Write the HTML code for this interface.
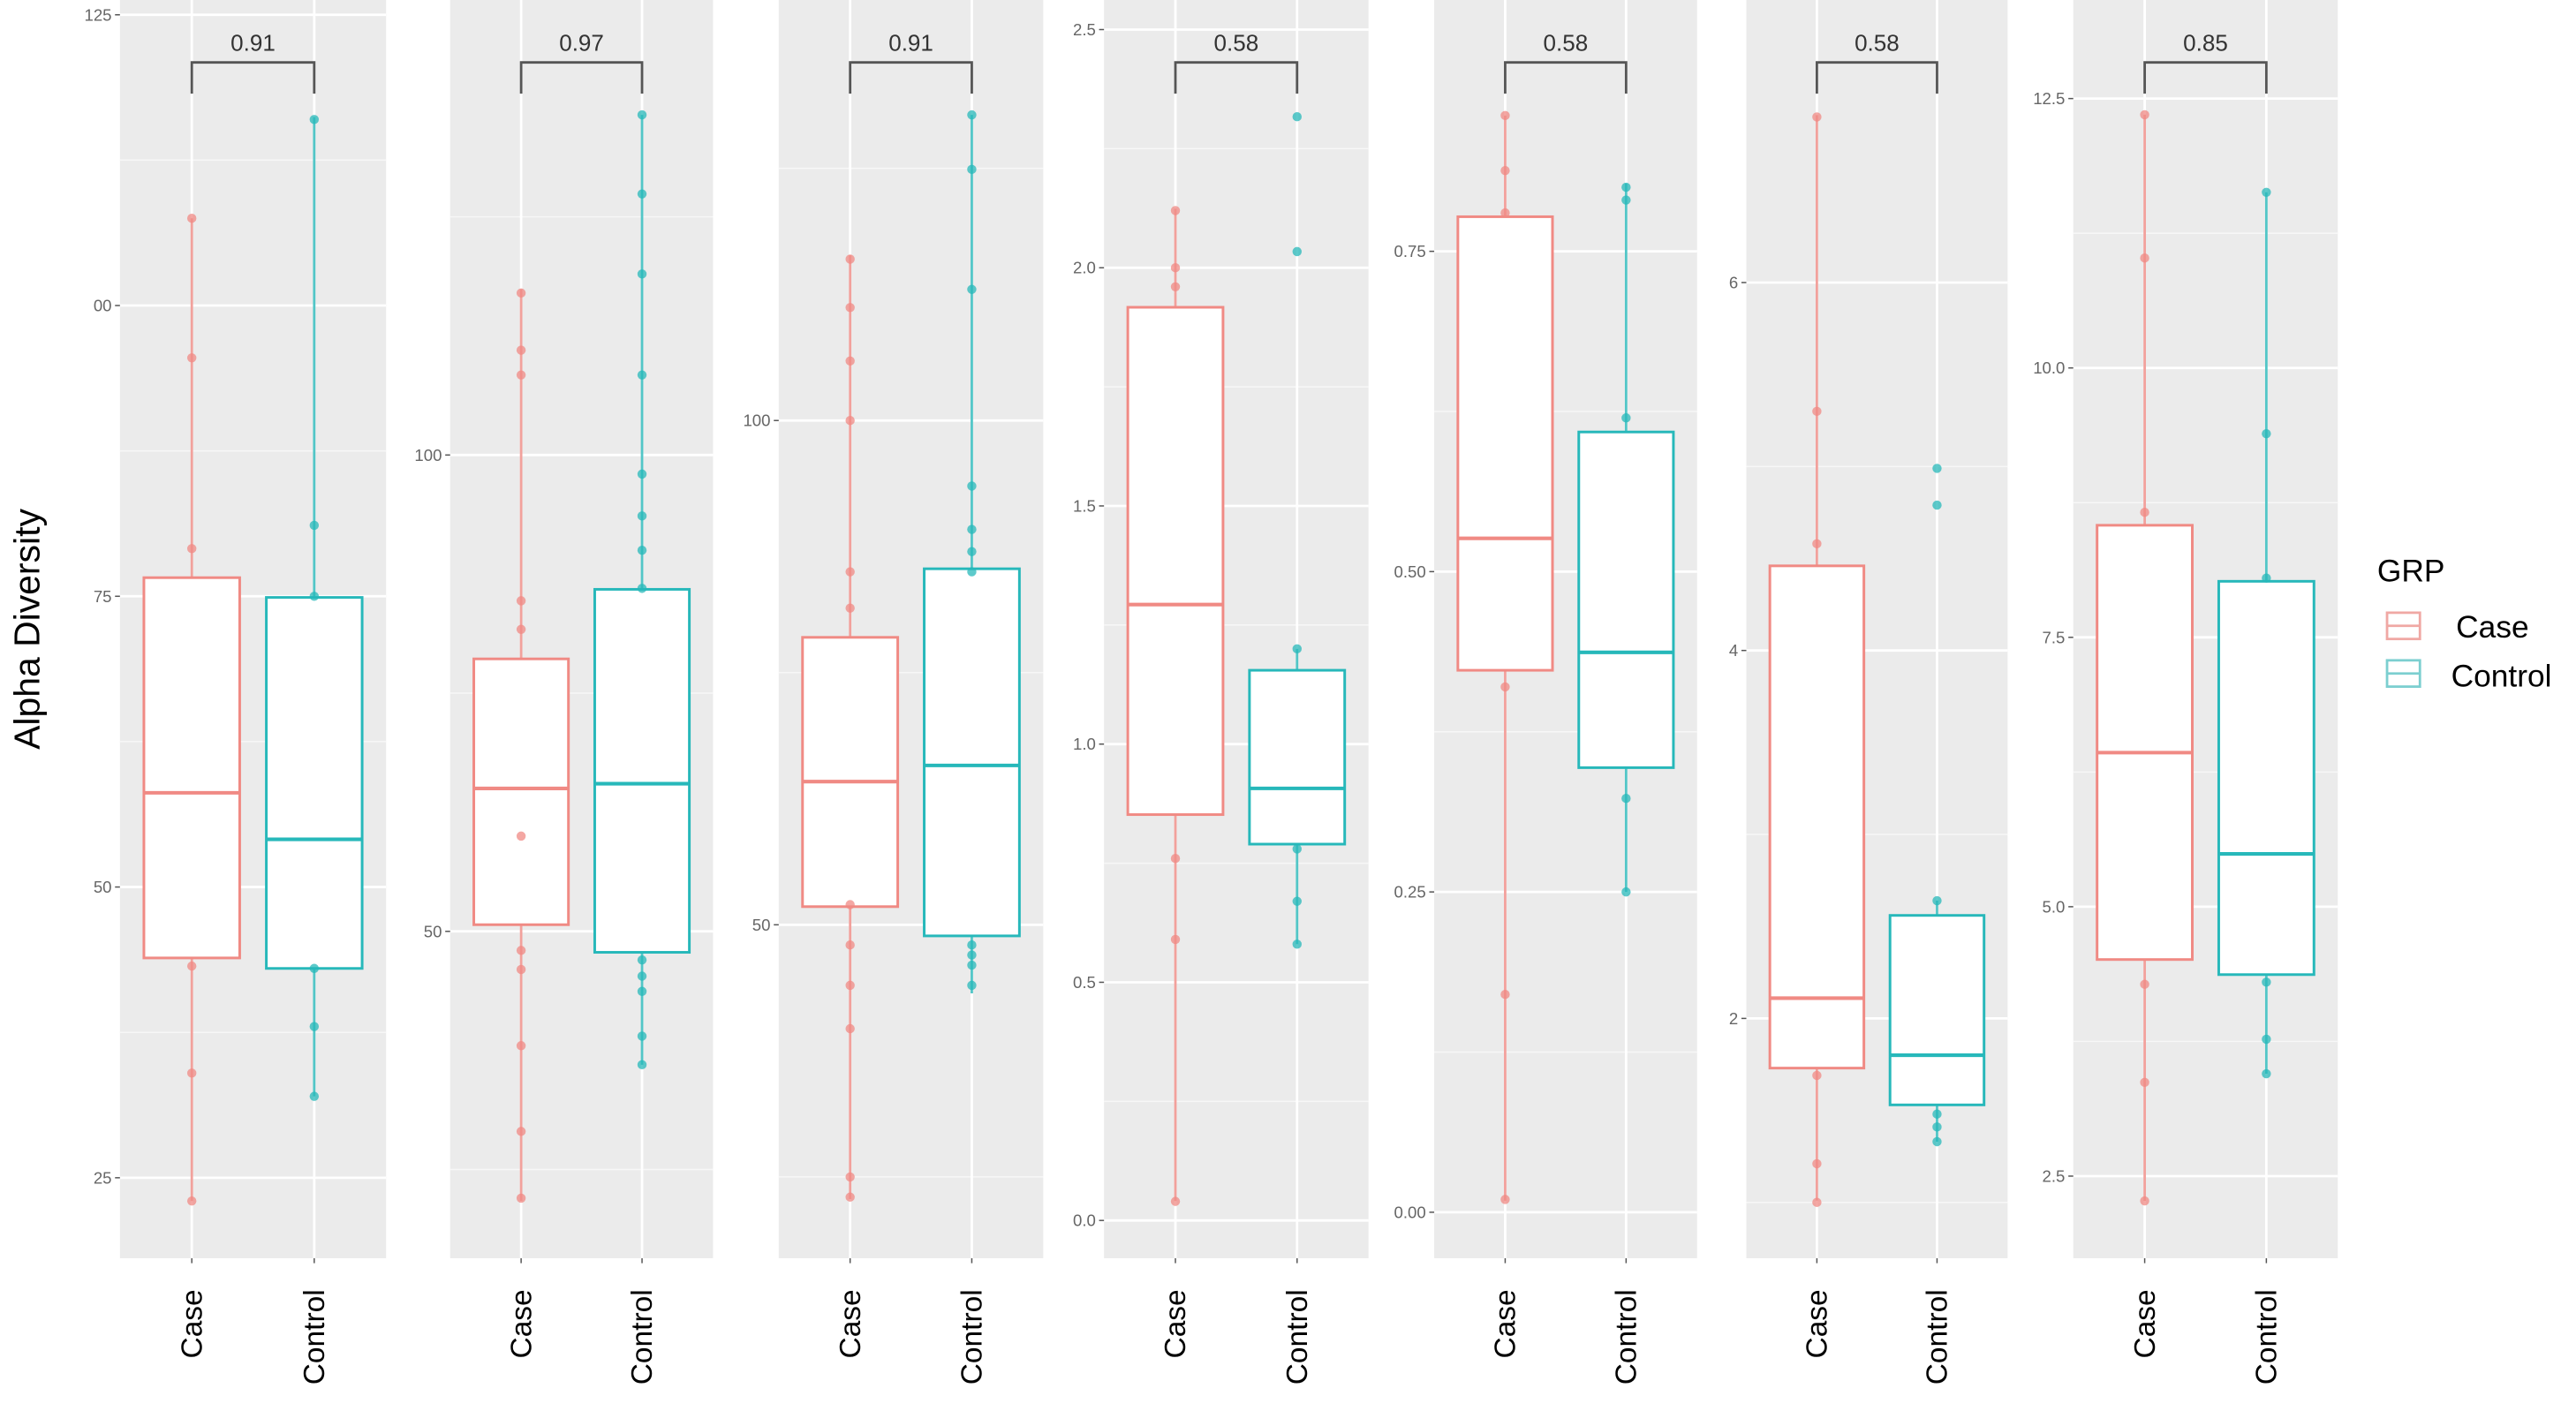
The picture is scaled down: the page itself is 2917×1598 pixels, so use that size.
<!DOCTYPE html>
<html><head><meta charset="utf-8"><style>
html,body{margin:0;padding:0;background:#fff;}
svg{display:block;}
</style></head><body>
<svg id="chart" width="2917" height="1598" viewBox="0 0 1568 859" xmlns="http://www.w3.org/2000/svg">
<text transform="translate(24,383) rotate(-90)" text-anchor="middle" font-family="Liberation Sans, sans-serif" font-size="22" fill="#000">Alpha Diversity</text>
<g font-family="Liberation Sans, sans-serif" fill="#000">
<text x="1447" y="354" font-size="19">GRP</text>
<g>
<rect x="1453" y="373" width="20" height="16" fill="#fff" stroke="#f0a8a4" stroke-width="1.5"/><line x1="1453" y1="381" x2="1473" y2="381" stroke="#f0a8a4" stroke-width="1.5"/>
<text x="1495" y="388" font-size="19">Case</text></g>
<g>
<rect x="1453" y="402" width="20" height="16" fill="#fff" stroke="#7ccfd0" stroke-width="1.5"/><line x1="1453" y1="410" x2="1473" y2="410" stroke="#7ccfd0" stroke-width="1.5"/>
<text x="1492" y="418" font-size="19">Control</text></g>
</g>
</svg>
<script>
// data per panel
const pValues = ["0.91","0.97","0.91","0.58","0.58","0.58","0.85"];
const tickLabels = [["25","50","75","00","125"],["50","100"],["50","100"],["0.0","0.5","1.0","1.5","2.0","2.5"],["0.00","0.25","0.50","0.75"],["2","4","6"],["2.5","5.0","7.5","10.0","12.5"]];
const tickValues = [[25,50,75,100,125],[50,100],[50,100],[0,0.5,1,1.5,2,2.5],[0,0.25,0.5,0.75],[2,4,6],[2.5,5,7.5,10,12.5]];
const minorValues = [[37.5,62.5,87.5,112.5],[25,75,125],[25,75,125],[0.25,0.75,1.25,1.75,2.25],[0.125,0.375,0.625],[1,3,5],[3.75,6.25,8.75,11.25]];
// [min, q1, median, q3, max]
const caseStats = [[23,43.9,58.1,76.6,107.5],[21.7,50.7,65,78.6,117.4],[22.8,51.8,64.2,78.5,116.4],[0.041,0.852,1.293,1.917,2.124],[0.009,0.423,0.526,0.777,0.856],[1.01,1.73,2.11,4.46,6.91],[2.27,4.51,6.43,8.54,12.35]];
const controlStats = [[32,43,54.1,74.9,116.2],[36,47.8,65.5,85.9,135.7],[43.2,48.9,65.8,85.3,130.3],[0.58,0.79,0.907,1.155,1.2],[0.25,0.347,0.437,0.609,0.803],[1.33,1.53,1.80,2.56,2.64],[3.45,4.37,5.49,8.02,11.63]];
const casePoints = [[107.5,95.5,79.1,43.2,34,23],[117,111,108.4,84.7,81.7,60,48,46,38,29,22],[116,111.2,105.9,100,85,81.4,52,48,44,39.7,25,23],[2.12,2.0,1.96,0.76,0.59,0.04],[0.856,0.813,0.78,0.41,0.17,0.01],[6.9,5.3,4.58,1.69,1.21,1.0],[12.35,11.02,8.66,4.28,3.37,2.27]];
const controlPoints = [[116,81.1,75,43,38,32],[135.7,127.4,119,108.4,98,93.6,90,86,47,45.3,43.7,39,36],[130.3,124.9,113,93.5,89.2,87,85,48,47,46,44],[2.317,2.034,1.2,0.78,0.67,0.58],[0.80,0.79,0.62,0.323,0.25],[4.99,4.79,2.64,1.48,1.41,1.33],[11.63,9.39,8.05,4.3,3.77,3.45]];
// axis calibration (two reference values per panel)
const refVals = [[75,50],[100,50],[100,50],[0,0.5],[0,0.25],[2,4],[2.5,5]];
const refPix = [[363,540],[277,567],[256,563],[743,598],[738,543],[620,396],[716,552]];
const panelX = [[73,235],[274,434],[474,635],[672,833],[873,1033],[1063,1222],[1262,1423]];

const NS="http://www.w3.org/2000/svg";
const svg=document.getElementById('chart');
function mk(tag,attrs,parent){const e=document.createElementNS(NS,tag);for(const k in attrs)e.setAttribute(k,attrs[k]);(parent||svg).appendChild(e);return e;}
const CASE="#f08a84", CTRL="#27b8ba", BOT=766;
pValues.forEach((p,i)=>{
  const [x0,x1]=panelX[i];
  const [v0,v1]=refVals[i],[p0,p1]=refPix[i];
  const y=v=>p0+(v-v0)*(p1-p0)/(v1-v0);
  const w=x1-x0, cx=x0+w*0.27, kx=x0+w*0.73, bw=w*0.36;
  const g=mk('g',{});
  
  
  const bg=mk('rect',{x:x0,y:0,width:w,height:BOT,fill:'#ebebeb'},g);
  
  
  minorValues[i].forEach(v=>{const yy=y(v);if(yy>0&&yy<BOT)mk('line',{x1:x0,x2:x1,y1:yy,y2:yy,stroke:'#f7f7f7','stroke-width':0.8},g);});
  tickValues[i].forEach((v,j)=>{const yy=y(v);
    mk('line',{x1:x0,x2:x1,y1:yy,y2:yy,stroke:'#fff','stroke-width':1.5},g);
    mk('line',{x1:x0-3,x2:x0,y1:yy,y2:yy,stroke:'#555','stroke-width':0.8},g);
    const t=mk('text',{x:x0-5,y:yy+3.5,'text-anchor':'end','font-family':'Liberation Sans, sans-serif','font-size':10,fill:'#666'},g);
    t.textContent=tickLabels[i][j];
    
    });
  [cx,kx].forEach(xx=>{mk('line',{x1:xx,x2:xx,y1:0,y2:BOT,stroke:'#fff','stroke-width':1.5},g);mk('line',{x1:xx,x2:xx,y1:BOT,y2:BOT+3,stroke:'#555','stroke-width':0.8},g);});
  [[cx,caseStats[i],casePoints[i],CASE,'case'],[kx,controlStats[i],controlPoints[i],CTRL,'control']].forEach(([xx,s,pts,col,nm])=>{
    const bx=mk('g',{},g);
    
    
    mk('line',{x1:xx,x2:xx,y1:y(s[0]),y2:y(s[4]),stroke:col,'stroke-width':1.5,opacity:0.8},bx);
    mk('rect',{x:xx-bw/2,y:y(s[3]),width:bw,height:y(s[1])-y(s[3]),fill:'#fff',stroke:col,'stroke-width':1.6},bx);
    mk('line',{x1:xx-bw/2,x2:xx+bw/2,y1:y(s[2]),y2:y(s[2]),stroke:col,'stroke-width':2.2},bx);
    pts.forEach(v=>{const c=mk('circle',{cx:xx,cy:y(v),r:2.8,fill:col,opacity:0.75},bx);
      
      });
    const lab=mk('text',{transform:`translate(${xx+6},785) rotate(-90)`,'text-anchor':'end','font-family':'Liberation Sans, sans-serif','font-size':18,fill:'#000'},g);
    lab.textContent=nm==='case'?'Case':'Control';
    
    
  });
  const br=mk('path',{d:`M${cx},57 V38 H${kx} V57`,fill:'none',stroke:'#555','stroke-width':1.5},g);
  
  
  const pt=mk('text',{x:(cx+kx)/2,y:31,'text-anchor':'middle','font-family':'Liberation Sans, sans-serif','font-size':14,fill:'#333'},g);
  pt.textContent=p;
  
  
});
</script>
</body></html>
